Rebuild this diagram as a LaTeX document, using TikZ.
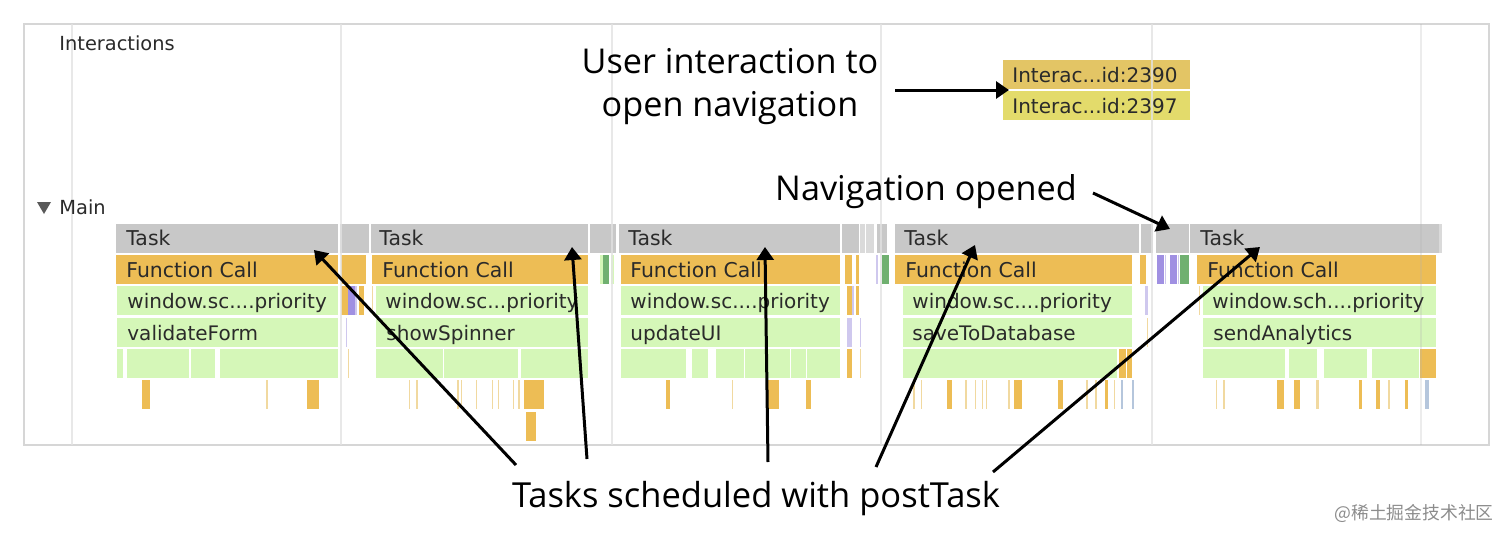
\documentclass[tikz,border=0pt]{standalone}
\usepackage{fontspec}
\setmainfont{Open Sans}
\newfontfamily\tracefont{DejaVu Sans}
\newfontfamily\cjkfont{Noto Sans CJK SC}
\usetikzlibrary{arrows.meta}
\definecolor{gridc}{HTML}{E2E2E2}
\definecolor{framec}{HTML}{D6D6D6}
\definecolor{taskc}{HTML}{C8C8C8}
\definecolor{tasklt}{HTML}{DADADA}
\definecolor{fnc}{HTML}{EDBD55}
\definecolor{fnlt}{HTML}{F1D9A0}
\definecolor{jsc}{HTML}{D5F7B8}
\definecolor{purp}{HTML}{A090E2}
\definecolor{purplt}{HTML}{CFC8EE}
\definecolor{grn}{HTML}{70B070}
\definecolor{bluec}{HTML}{B5C6DC}
\definecolor{intera}{HTML}{E3C565}
\definecolor{interb}{HTML}{E3DB6B}
\definecolor{tracetxt}{HTML}{2A2A2A}
\tikzset{
  tlabel/.style={anchor=base west,inner sep=0pt,text=tracetxt,font=\tracefont\fontsize{10}{12}\selectfont},
  slabel/.style={anchor=base west,inner sep=0pt,text=tracetxt,font=\tracefont\fontsize{10.2}{12}\selectfont},
  trackname/.style={anchor=base west,inner sep=0pt,text=tracetxt,font=\tracefont\fontsize{9.7}{12}\selectfont},
  bigtxt/.style={anchor=base,inner sep=0pt,text=black,font=\fontsize{17.1}{20}\selectfont},
  callout/.style={-{Triangle[length=6.5pt,width=8.5pt]},line width=1.5pt,black}
}
\begin{document}
\begin{tikzpicture}[x=0.5pt,y=-0.5pt]
   \useasboundingbox (0,0) rectangle (1512,541);
   % frame
   \draw[framec,line width=0.7pt] (24,24) rectangle (1489,445);
   % interactions track
   \fill[intera] (1003, 60) rectangle (1190, 89);
   \fill[interb] (1003, 91) rectangle (1190,120);
   % task row
   \fill[taskc]  ( 116,224) rectangle ( 338,253);
   \fill[taskc]  ( 340,224) rectangle ( 369,253);
   \fill[taskc]  ( 371,224) rectangle ( 588,253);
   \fill[taskc]  ( 590,224) rectangle ( 616,253);
   \fill[taskc]  ( 619,224) rectangle ( 840,253);
   \fill[taskc]  ( 842,224) rectangle ( 859,253);
   \fill[tasklt] ( 860,224) rectangle ( 865,253);
   \fill[tasklt] ( 866,224) rectangle ( 874,253);
   \fill[taskc]  ( 877,224) rectangle ( 887,253);
   \fill[taskc]  ( 895,224) rectangle (1139,253);
   \fill[taskc]  (1141,224) rectangle (1153,253);
   \fill[taskc]  (1156,224) rectangle (1189,253);
   \fill[taskc]  (1190,224) rectangle (1439,253);
   \fill[tasklt] (1439,224) rectangle (1442,253);
   % function call row
   \fill[fnc]    ( 116,255) rectangle ( 338,284);
   \fill[fnc]    ( 341,255) rectangle ( 366,284);
   \fill[fnc]    ( 372,255) rectangle ( 588,284);
   \fill[grn]    ( 603,255) rectangle ( 609,284);
   \fill[jsc]    ( 600,255) rectangle ( 603,284);
   \fill[jsc]    ( 611,255) rectangle ( 614,284);
   \fill[fnc]    ( 621,255) rectangle ( 840,284);
   \fill[fnc]    ( 845,255) rectangle ( 852,284);
   \fill[fnc]    ( 856,255) rectangle ( 859,284);
   \fill[purplt] ( 876,255) rectangle ( 878,284);
   \fill[grn]    ( 882,255) rectangle ( 889,284);
   \fill[fnc]    ( 895,255) rectangle (1132,284);
   \fill[fnc]    (1140,255) rectangle (1146,284);
   \fill[purp]   (1157,255) rectangle (1164,284);
   \fill[purplt] (1165,255) rectangle (1166,284);
   \fill[purp]   (1170,255) rectangle (1177,284);
   \fill[purplt] (1178,255) rectangle (1179,284);
   \fill[grn]    (1180,255) rectangle (1189,284);
   \fill[fnc]    (1197,255) rectangle (1436,284);
   % window row
   \fill[jsc]    ( 117,286) rectangle ( 338,315);
   \fill[fnc]    ( 341,286) rectangle ( 348,315);
   \fill[purp]   ( 348,286) rectangle ( 355,315);
   \fill[purplt] ( 355,286) rectangle ( 357,315);
   \fill[fnc]    ( 359,286) rectangle ( 364,315);
   \fill[fnlt]   ( 372,286) rectangle ( 373,315);
   \fill[jsc]    ( 376,286) rectangle ( 588,315);
   \fill[jsc]    ( 621,286) rectangle ( 840,315);
   \fill[fnc]    ( 847,286) rectangle ( 852,315);
   \fill[purplt] ( 852,286) rectangle ( 854,315);
   \fill[fnc]    ( 856,286) rectangle ( 859,315);
   \fill[jsc]    ( 903,286) rectangle (1132,315);
   \fill[purplt] (1145,286) rectangle (1148,315);
   \fill[fnlt]   (1199,286) rectangle (1200,315);
   \fill[jsc]    (1203,286) rectangle (1436,315);
   % function name row
   \fill[jsc]    ( 117,318) rectangle ( 338,347);
   \fill[purplt] ( 346,318) rectangle ( 347,347);
   \fill[jsc]    ( 376,318) rectangle ( 588,347);
   \fill[jsc]    ( 621,318) rectangle ( 840,347);
   \fill[purplt] ( 847,318) rectangle ( 852,347);
   \fill[purplt] ( 860,318) rectangle ( 861,347);
   \fill[jsc]    ( 903,318) rectangle (1132,347);
   \fill[fnlt]   (1147,318) rectangle (1148,347);
   \fill[jsc]    (1203,318) rectangle (1436,347);
   % unnamed green row
   \fill[jsc]    ( 117,349) rectangle ( 123,378);
   \fill[jsc]    ( 127,349) rectangle ( 189,378);
   \fill[jsc]    ( 191,349) rectangle ( 215,378);
   \fill[jsc]    ( 220,349) rectangle ( 338,378);
   \fill[fnlt]   ( 348,349) rectangle ( 349,378);
   \fill[jsc]    ( 376,349) rectangle ( 443,378);
   \fill[jsc]    ( 444,349) rectangle ( 518,378);
   \fill[jsc]    ( 521,349) rectangle ( 588,378);
   \fill[jsc]    ( 621,349) rectangle ( 686,378);
   \fill[jsc]    ( 692,349) rectangle ( 708,378);
   \fill[jsc]    ( 716,349) rectangle ( 744,378);
   \fill[jsc]    ( 745,349) rectangle ( 790,378);
   \fill[jsc]    ( 791,349) rectangle ( 806,378);
   \fill[jsc]    ( 807,349) rectangle ( 840,378);
   \fill[fnc]    ( 847,349) rectangle ( 852,378);
   \fill[fnlt]   ( 860,349) rectangle ( 861,378);
   \fill[jsc]    ( 903,349) rectangle (1117,378);
   \fill[fnc]    (1119,349) rectangle (1126,378);
   \fill[fnc]    (1127,349) rectangle (1132,378);
   \fill[jsc]    (1203,349) rectangle (1285,378);
   \fill[jsc]    (1289,349) rectangle (1317,378);
   \fill[jsc]    (1324,349) rectangle (1367,378);
   \fill[jsc]    (1372,349) rectangle (1419,378);
   \fill[fnc]    (1420,349) rectangle (1436,378);
   % small slices
   \fill[fnc]    ( 142,380) rectangle ( 150,409);
   \fill[fnlt]   ( 266,380) rectangle ( 268,409);
   \fill[fnc]    ( 307,380) rectangle ( 319,409);
   \fill[fnlt]   ( 409,380) rectangle ( 410,409);
   \fill[fnlt]   ( 416,380) rectangle ( 418,409);
   \fill[fnlt]   ( 457,380) rectangle ( 459,409);
   \fill[fnlt]   ( 461,380) rectangle ( 462,409);
   \fill[fnlt]   ( 476,380) rectangle ( 477,409);
   \fill[fnlt]   ( 492,380) rectangle ( 493,409);
   \fill[fnlt]   ( 498,380) rectangle ( 499,409);
   \fill[fnlt]   ( 513,380) rectangle ( 514,409);
   \fill[fnlt]   ( 518,380) rectangle ( 520,409);
   \fill[fnc]    ( 524,380) rectangle ( 544,409);
   \fill[fnc]    ( 526,412) rectangle ( 536,441);
   \fill[fnc]    ( 666,380) rectangle ( 670,409);
   \fill[fnlt]   ( 732,380) rectangle ( 733,409);
   \fill[fnc]    ( 768,380) rectangle ( 779,409);
   \fill[fnc]    ( 806,380) rectangle ( 811,409);
   \fill[fnlt]   ( 913,380) rectangle ( 915,409);
   \fill[fnlt]   ( 921,380) rectangle ( 922,409);
   \fill[fnc]    ( 947,380) rectangle ( 952,409);
   \fill[fnlt]   ( 965,380) rectangle ( 967,409);
   \fill[fnlt]   ( 975,380) rectangle ( 976,409);
   \fill[fnlt]   ( 982,380) rectangle ( 983,409);
   \fill[fnlt]   ( 986,380) rectangle ( 987,409);
   \fill[fnlt]   (1008,380) rectangle (1010,409);
   \fill[fnc]    (1014,380) rectangle (1022,409);
   \fill[fnc]    (1058,380) rectangle (1063,409);
   \fill[fnlt]   (1086,380) rectangle (1088,409);
   \fill[fnlt]   (1095,380) rectangle (1097,409);
   \fill[fnc]    (1105,380) rectangle (1108,409);
   \fill[fnlt]   (1114,380) rectangle (1115,409);
   \fill[bluec]  (1121,380) rectangle (1123,409);
   \fill[bluec]  (1132,380) rectangle (1134,409);
   \fill[fnlt]   (1216,380) rectangle (1217,409);
   \fill[fnlt]   (1223,380) rectangle (1225,409);
   \fill[fnc]    (1277,380) rectangle (1284,409);
   \fill[fnc]    (1294,380) rectangle (1300,409);
   \fill[fnlt]   (1316,380) rectangle (1319,409);
   \fill[fnc]    (1359,380) rectangle (1362,409);
   \fill[fnc]    (1376,380) rectangle (1380,409);
   \fill[fnlt]   (1388,380) rectangle (1390,409);
   \fill[fnc]    (1405,380) rectangle (1408,409);
   \fill[bluec]  (1425,380) rectangle (1429,409);
   % time grid
   \draw[gridc,line width=0.6pt,opacity=0.8] (  72,24) -- (  72,445);
   \draw[gridc,line width=0.6pt,opacity=0.8] ( 341,24) -- ( 341,445);
   \draw[gridc,line width=0.6pt,opacity=0.8] ( 612,24) -- ( 612,445);
   \draw[gridc,line width=0.6pt,opacity=0.8] ( 881,24) -- ( 881,445);
   \draw[gridc,line width=0.6pt,opacity=0.8] (1152,24) -- (1152,445);
   \draw[black!30,line width=0.6pt,opacity=0.25] (1421,24) -- (1421,445);
   % track names
   \node[trackname] (interactions) at (59,50) {Interactions};
   \node[trackname] (mainname) at (59,214) {Main};
   \fill[black!65] (37,202) -- (51,202) -- (44,214) -- cycle;
   \node[tlabel] (intone) at (1012, 82) {Interac...id:2390};
   \node[tlabel] (inttwo) at (1012,113) {Interac...id:2397};
   % task labels
   \node[slabel] (taska) at ( 126,245) {Task};
   \node[slabel] (taskb) at ( 379,245) {Task};
   \node[slabel] (taskc) at ( 628,245) {Task};
   \node[slabel] (taskd) at ( 904,245) {Task};
   \node[slabel] (taske) at (1200,245) {Task};
   \node[slabel] (fna) at ( 126,277) {Function Call};
   \node[slabel] (fnb) at ( 382,277) {Function Call};
   \node[slabel] (fnc) at ( 630,277) {Function Call};
   \node[slabel] (fnd) at ( 905,277) {Function Call};
   \node[slabel] (fne) at (1207,277) {Function Call};
   \node[tlabel] (wina) at ( 127,308) {window.sc....priority};
   \node[tlabel] (winb) at ( 385,308) {window.sc...priority};
   \node[tlabel] (winc) at ( 630,308) {window.sc....priority};
   \node[tlabel] (wind) at ( 912,308) {window.sc....priority};
   \node[tlabel] (wine) at (1212,308) {window.sch....priority};
   \node[tlabel] (namea) at ( 127,340) {validateForm};
   \node[tlabel] (nameb) at ( 386,340) {showSpinner};
   \node[tlabel] (namec) at ( 630,340) {updateUI};
   \node[tlabel] (named) at ( 912,340) {saveToDatabase};
   \node[tlabel] (namee) at (1213,340) {sendAnalytics};
   % callouts
   \node[bigtxt] (userlbl) at (730, 73) {User interaction to};
   \node[bigtxt] (openlbl) at (730,116) {open navigation};
   \node[bigtxt] (navlbl) at (926,200) {Navigation opened};
   \node[bigtxt,font=\fontsize{17.25}{20}\selectfont] (postlbl) at (756,507) {Tasks scheduled with postTask};
   \node[anchor=base east,inner sep=0pt,text=black!45,font=\cjkfont\fontsize{8.9}{10}\selectfont] (wmark) at (1494,519) {@稀土掘金技术社区};
   \coordinate (usertail) at (895,90);
   \coordinate (usertip) at (1009,90);
   \coordinate (navtail) at (1093,193);
   \coordinate (navtip) at (1170,229);
   \coordinate (posta) at (516,465);
   \coordinate (postb) at (587,459);
   \coordinate (postc) at (768,462);
   \coordinate (postd) at (876,467);
   \coordinate (poste) at (993,472);
   \coordinate (tipa) at (314,250);
   \coordinate (tipb) at (572,247);
   \coordinate (tipc) at (765,247);
   \coordinate (tipd) at (975,245);
   \coordinate (tipe) at (1260,247);
   \draw[callout] (usertail) -- (usertip);
   \draw[callout] (navtail) -- (navtip);
   \draw[callout] (posta) -- (tipa);
   \draw[callout] (postb) -- (tipb);
   \draw[callout] (postc) -- (tipc);
   \draw[callout] (postd) -- (tipd);
   \draw[callout] (poste) -- (tipe);
\end{tikzpicture}
\end{document}
